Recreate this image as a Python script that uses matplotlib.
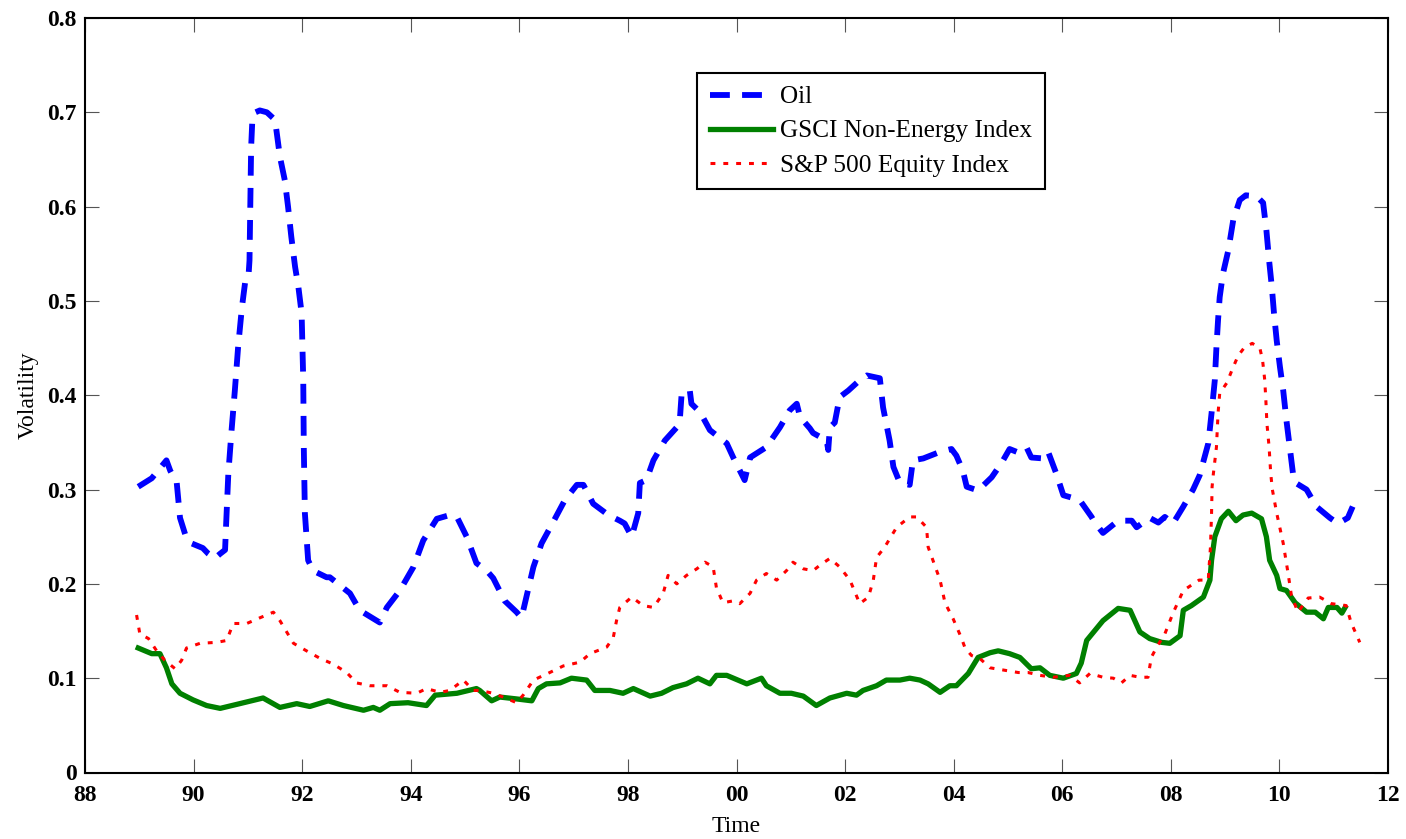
import matplotlib
matplotlib.use("Agg")
import matplotlib.pyplot as plt
import numpy as np

plt.rcParams['font.family'] = ['Liberation Serif', 'DejaVu Serif']

# Oil volatility
oil_t = [88.98, 89.23, 89.50, 89.57, 89.69, 89.75, 89.87, 89.96, 90.17, 90.27,
         90.39, 90.49, 90.58, 90.60, 90.64, 90.70, 90.76, 90.82, 90.89, 90.95,
         91.01, 91.03, 91.04, 91.05, 91.06, 91.08, 91.14, 91.22, 91.35, 91.50,
         91.59, 91.68, 91.74, 91.80, 91.87, 91.93, 91.99, 92.02, 92.03, 92.05,
         92.11, 92.20, 92.45, 92.51, 92.88, 93.06, 93.43, 93.56, 93.80, 94.05,
         94.23, 94.48, 94.72, 94.85, 95.03, 95.21, 95.40, 95.52, 95.73, 95.95,
         96.04, 96.13, 96.26, 96.41, 96.59, 96.84, 97.06, 97.18, 97.36, 97.64,
         97.85, 97.94, 98.07, 98.19, 98.22, 98.34, 98.47, 98.68, 98.90, 98.96,
         98.99, 99.14, 99.17, 99.33, 99.51, 99.82, 99.94, 100.15, 100.25, 100.55,
         100.80, 100.98, 101.11, 101.17, 101.35, 101.41, 101.66, 101.69, 101.72, 101.81,
         101.90, 102.06, 102.27, 102.40, 102.64, 102.70, 102.82, 102.89, 103.01, 103.19,
         103.25, 103.44, 103.75, 103.96, 104.05, 104.17, 104.24, 104.45, 104.70, 104.88,
         105.03, 105.16, 105.34, 105.43, 105.65, 105.74, 105.89, 106.02, 106.32, 106.54,
         106.60, 106.75, 107.03, 107.28, 107.37, 107.61, 107.77, 107.89, 108.04, 108.23,
         108.41, 108.53, 108.69, 108.75, 108.81, 108.84, 108.87, 108.90, 108.96, 109.06,
         109.15, 109.27, 109.38, 109.58, 109.70, 109.76, 109.81, 109.86, 109.90, 109.95,
         110.01, 110.07, 110.13, 110.25, 110.30, 110.50, 110.68, 110.93, 111.08, 111.26,
         111.35]
oil_v = [.303, .312, .331, .320, .307, .270, .248, .243, .238, .232,
         .227, .232, .236, .264, .317, .363, .405, .451, .493, .520,
         .525, .543, .582, .628, .663, .689, .700, .702, .700, .692,
         .653, .628, .600, .568, .536, .515, .487, .416, .345, .275,
         .225, .214, .207, .207, .190, .172, .159, .175, .193, .218,
         .246, .269, .273, .271, .250, .222, .214, .206, .182, .170,
         .164, .186, .218, .243, .262, .289, .305, .305, .285, .273,
         .267, .264, .250, .275, .307, .310, .331, .352, .366, .377,
         .402, .405, .391, .382, .363, .349, .334, .310, .334, .345,
         .366, .384, .391, .377, .365, .360, .352, .342, .366, .371,
         .398, .405, .416, .421, .418, .387, .352, .324, .307, .305,
         .331, .333, .340, .343, .336, .320, .303, .299, .313, .328,
         .343, .340, .345, .334, .333, .340, .317, .294, .289, .271,
         .265, .254, .267, .267, .260, .270, .265, .271, .264, .282,
         .300, .315, .349, .381, .416, .451, .480, .504, .529, .554,
         .586, .607, .612, .611, .604, .575, .543, .515, .487, .458,
         .430, .405, .373, .317, .307, .300, .282, .270, .264, .270,
         .282]

# GSCI Non-Energy Index volatility
gsci_t = [88.98, 89.23, 89.38, 89.50, 89.60, 89.75, 89.99, 90.24, 90.49, 90.85,
          91.28, 91.59, 91.90, 92.14, 92.48, 92.76, 93.13, 93.31, 93.43, 93.62,
          93.95, 94.29, 94.45, 94.85, 95.21, 95.27, 95.49, 95.64, 95.95, 96.23,
          96.35, 96.50, 96.75, 96.96, 97.24, 97.39, 97.67, 97.91, 98.10, 98.41,
          98.62, 98.83, 99.08, 99.29, 99.51, 99.63, 99.82, 100.19, 100.46, 100.55,
          100.80, 101.01, 101.23, 101.47, 101.72, 102.03, 102.21, 102.33, 102.58, 102.76,
          103.01, 103.19, 103.38, 103.53, 103.75, 103.93, 104.05, 104.27, 104.45, 104.67,
          104.82, 105.03, 105.22, 105.43, 105.59, 105.77, 106.02, 106.26, 106.35, 106.45,
          106.75, 107.03, 107.25, 107.43, 107.61, 107.83, 107.98, 108.17, 108.23, 108.38,
          108.60, 108.72, 108.75, 108.81, 108.93, 109.06, 109.20, 109.33, 109.49, 109.67,
          109.76, 109.82, 109.95, 110.01, 110.13, 110.29, 110.50, 110.66, 110.81, 110.90,
          111.06, 111.15, 111.21]
gsci_v = [.132, .126, .126, .111, .094, .084, .077, .071, .068, .073,
          .079, .069, .073, .070, .076, .071, .066, .069, .066, .073,
          .074, .071, .082, .084, .089, .087, .076, .080, .078, .076,
          .089, .094, .095, .100, .098, .087, .087, .084, .089, .081,
          .084, .090, .094, .100, .094, .103, .103, .094, .100, .092,
          .084, .084, .081, .071, .079, .084, .082, .087, .092, .098,
          .098, .100, .098, .094, .085, .092, .092, .105, .122, .127,
          .129, .126, .122, .110, .111, .103, .100, .105, .116, .140,
          .161, .174, .172, .149, .142, .138, .137, .145, .172, .177,
          .186, .204, .225, .250, .269, .277, .267, .273, .275, .269,
          .250, .225, .209, .195, .193, .180, .170, .170, .163, .175,
          .175, .169, .175]

# S&P 500 Equity Index volatility
sp_t = [88.95, 89.01, 89.17, 89.32, 89.47, 89.66, 89.78, 89.87, 90.12, 90.43,
        90.61, 90.73, 90.98, 91.22, 91.47, 91.59, 91.84, 92.08, 92.33, 92.57,
        92.82, 93.00, 93.25, 93.56, 93.80, 94.11, 94.29, 94.54, 94.72, 94.97,
        95.15, 95.27, 95.52, 95.70, 95.95, 96.07, 96.26, 96.56, 96.81, 97.12,
        97.30, 97.61, 97.73, 97.79, 97.85, 98.07, 98.28, 98.47, 98.65, 98.74,
        98.90, 99.08, 99.27, 99.42, 99.57, 99.63, 99.75, 99.94, 100.06, 100.25,
        100.37, 100.55, 100.74, 100.92, 101.04, 101.23, 101.41, 101.54, 101.72, 101.90,
        102.09, 102.27, 102.43, 102.52, 102.58, 102.73, 102.95, 103.19, 103.32, 103.50,
        103.53, 103.75, 103.84, 103.99, 104.14, 104.21, 104.33, 104.48, 104.67, 104.88,
        105.19, 105.37, 105.59, 105.83, 106.14, 106.32, 106.51, 106.75, 106.94, 107.09,
        107.25, 107.43, 107.58, 107.64, 107.74, 107.89, 108.04, 108.23, 108.52, 108.69,
        108.70, 108.73, 108.75, 108.76, 108.78, 108.84, 108.87, 108.90, 109.03, 109.15,
        109.24, 109.36, 109.50, 109.64, 109.69, 109.73, 109.75, 109.77, 109.81, 109.84,
        109.87, 109.95, 110.07, 110.16, 110.22, 110.34, 110.53, 110.74, 110.96, 111.23,
        111.32, 111.48]
sp_v = [.167, .147, .142, .129, .119, .110, .119, .132, .137, .138,
        .140, .158, .158, .164, .170, .161, .137, .129, .121, .115,
        .106, .095, .092, .092, .085, .084, .089, .085, .087, .098,
        .087, .087, .084, .080, .074, .082, .098, .106, .113, .117,
        .126, .133, .143, .161, .175, .186, .177, .175, .190, .209,
        .200, .209, .216, .223, .218, .196, .180, .182, .179, .190,
        .204, .211, .204, .214, .223, .216, .214, .220, .227, .218,
        .204, .179, .186, .204, .228, .239, .260, .271, .271, .260,
        .239, .204, .180, .163, .143, .132, .124, .121, .111, .109,
        .106, .106, .103, .101, .103, .095, .105, .101, .100, .095,
        .103, .101, .101, .122, .133, .147, .169, .193, .204, .204,
        .214, .239, .275, .303, .315, .345, .381, .402, .413, .430,
        .442, .451, .455, .450, .437, .416, .395, .370, .345, .317,
        .300, .275, .243, .211, .188, .170, .185, .186, .179, .177,
        .159, .138]

xticks = [88, 90, 92, 94, 96, 98, 100, 102, 104, 106, 108, 110, 112]
xtick_labels = ['88', '90', '92', '94', '96', '98', '00', '02', '04', '06', '08', '10', '12']
yticks = [0, 0.1, 0.2, 0.3, 0.4, 0.5, 0.6, 0.7, 0.8]
ytick_labels = ['0', '0.1', '0.2', '0.3', '0.4', '0.5', '0.6', '0.7', '0.8']

fig = plt.figure(figsize=(14.06, 8.39), dpi=100)
ax = fig.add_axes([85/1406, 66.5/839, 1303/1406, 754.5/839])

ax.plot(oil_t, oil_v, color='#0000ff', lw=4.2, linestyle=(0, (3.4, 2.1)),
        label='Oil')
ax.plot(gsci_t, gsci_v, color='#008000', lw=3.8, label='GSCI Non-Energy Index')
ax.plot(sp_t, sp_v, color='#ff0000', lw=2.2, linestyle=(0, (1.6, 2.6)),
        label='S&P 500 Equity Index')

ax.set_xlim(88, 112)
ax.set_ylim(0, 0.8)
ax.set_xticks(xticks)
ax.set_xticklabels(xtick_labels)
ax.set_yticks(yticks)
ax.set_yticklabels(ytick_labels)
ax.tick_params(direction='in', length=10, width=0.8, color='#555555',
               top=True, right=True, labelsize=17)
ax.tick_params(axis='x', pad=9)
ax.tick_params(axis='y', pad=6)
for lab in ax.get_xticklabels() + ax.get_yticklabels():
    lab.set_fontweight('bold')
for sp in ax.spines.values():
    sp.set_linewidth(1.5)

ax.set_xlabel('Time', fontsize=17, labelpad=7)
ax.set_ylabel('Volatility', fontsize=17, labelpad=6)

leg = ax.legend(loc='upper left', bbox_to_anchor=(0.4697, 0.927),
                borderaxespad=0, fancybox=False, edgecolor='black',
                framealpha=1, fontsize=18.2, handlelength=2.5,
                handletextpad=0.28, labelspacing=0.45, borderpad=0.5)
leg.get_frame().set_linewidth(1.5)

fig.savefig('out.png', dpi=100)
